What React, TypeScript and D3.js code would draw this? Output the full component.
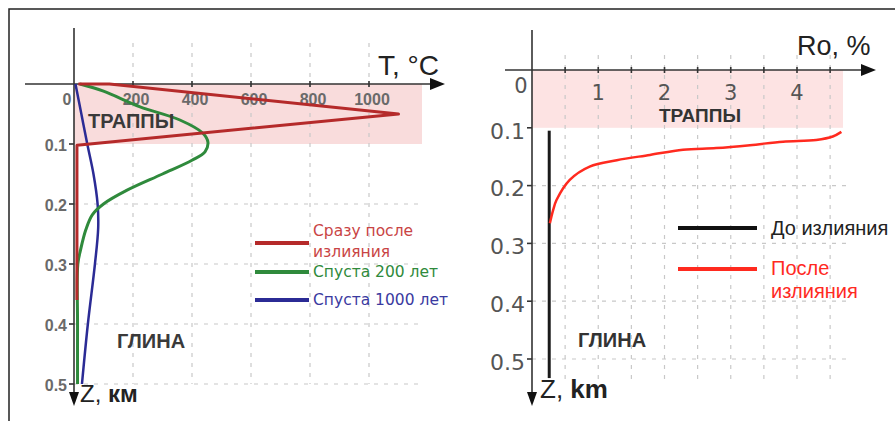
import React, { useEffect, useRef } from 'react';
import * as d3 from 'd3';

// left panel: temperature profiles, T in °C vs depth z in km
const tempTicks = [0, 200, 400, 600, 800, 1000];
const depthTicks = [0.1, 0.2, 0.3, 0.4, 0.5];

const redT = [15, 120, 1100, 10, 10];
const redZ = [0, 0, 0.05, 0.102, 0.36];

const greenT = [20, 100, 224, 359, 437, 454, 444, 400, 300, 180, 100, 62, 40, 22, 13, 12, 12];
const greenZ = [0, 0.012, 0.038, 0.06, 0.082, 0.097, 0.113, 0.127, 0.15, 0.177, 0.2, 0.218, 0.243, 0.277, 0.3, 0.4, 0.5];

const blueT = [5, 25, 45, 66, 80, 82, 71, 47, 27];
const blueZ = [0, 0.05, 0.1, 0.15, 0.2, 0.24, 0.3, 0.4, 0.5];

const leftLegend = [
  { lines: ['Сразу после', 'излияния'], color: '#b52a2a', text: '#c94444' },
  { lines: ['Спуста 200 лет'], color: '#2f8a3c', text: '#2f8a3c' },
  { lines: ['Спуста 1000 лет'], color: '#2b2b95', text: '#3a3aa0' },
];

// right panel: vitrinite reflectance Ro %, vs depth
const roTicks = [1, 2, 3, 4];
const roGrid = [0.5, 1, 1.5, 2, 2.5, 3, 3.5, 4, 4.5];

const beforeRo = [0.26, 0.26];
const beforeZ = [0.105, 0.533];

const afterRo = [0.27, 0.32, 0.37, 0.57, 0.87, 1.28, 1.78, 2.28, 2.78, 3.29, 3.79, 4.29, 4.54, 4.67];
const afterZ = [0.265, 0.242, 0.225, 0.19, 0.167, 0.156, 0.147, 0.138, 0.135, 0.13, 0.124, 0.121, 0.115, 0.107];

const font = "'Liberation Sans', Arial, sans-serif";
const wideFont = "'DejaVu Sans', Verdana, sans-serif";

const App = () => {
  const svgRef = useRef<SVGSVGElement>(null);

  useEffect(() => {
    const width = 895;
    const height = 421;

    d3.select(svgRef.current).selectAll('*').remove();

    const svg = d3.select(svgRef.current)
      .attr('width', width)
      .attr('height', height)
      .style('background', '#fff');

    // outer frame (only top and left edges show)
    svg.append('path')
      .attr('d', `M9,${height} L9,9 L${width},9`)
      .attr('fill', 'none')
      .attr('stroke', '#222')
      .attr('stroke-width', 1.5);

    const drawPanel = (opts) => {
      const { x, y, xGrid, bandRight, gridTop, gridBottom, gridRight, axisLeft, axisTop, arrowX, arrowY } = opts;
      const g = svg.append('g');

      // pink band for the traps layer
      g.append('rect')
        .attr('x', x(0))
        .attr('y', y(0))
        .attr('width', bandRight - x(0))
        .attr('height', y(0.1) - y(0))
        .attr('fill', opts.bandColor);

      // dashed grid
      g.selectAll('.vgrid')
        .data(xGrid)
        .join('line')
        .attr('x1', d => x(d))
        .attr('x2', d => x(d))
        .attr('y1', gridTop)
        .attr('y2', gridBottom)
        .attr('stroke', '#c8c8c8')
        .attr('stroke-width', 1.2)
        .attr('stroke-dasharray', '4,6');

      g.selectAll('.hgrid')
        .data(depthTicks.slice(1))
        .join('line')
        .attr('x1', x(0))
        .attr('x2', gridRight)
        .attr('y1', d => y(d))
        .attr('y2', d => y(d))
        .attr('stroke', '#c8c8c8')
        .attr('stroke-width', 1.2)
        .attr('stroke-dasharray', '4,6');

      // axes with arrows
      g.append('line')
        .attr('x1', axisLeft).attr('x2', arrowX - 14)
        .attr('y1', y(0)).attr('y2', y(0))
        .attr('stroke', '#333').attr('stroke-width', 1.6);
      g.append('path')
        .attr('d', `M${arrowX},${y(0)} L${arrowX - 15},${y(0) - 6} L${arrowX - 15},${y(0) + 6} Z`)
        .attr('fill', '#111');

      g.append('line')
        .attr('x1', x(0)).attr('x2', x(0))
        .attr('y1', axisTop).attr('y2', arrowY - 14)
        .attr('stroke', '#333').attr('stroke-width', 1.6);
      g.append('path')
        .attr('d', `M${x(0)},${arrowY} L${x(0) - 5},${arrowY - 14} L${x(0) + 5},${arrowY - 14} Z`)
        .attr('fill', '#111');

      // tick marks
      g.selectAll('.xtick')
        .data(opts.xTickMarks)
        .join('line')
        .attr('x1', d => x(d)).attr('x2', d => x(d))
        .attr('y1', y(0) - 3).attr('y2', y(0) + 3)
        .attr('stroke', '#333').attr('stroke-width', 1.6);

      g.selectAll('.ytick')
        .data(depthTicks)
        .join('line')
        .attr('x1', x(0) - 5).attr('x2', x(0))
        .attr('y1', d => y(d)).attr('y2', d => y(d))
        .attr('stroke', '#333').attr('stroke-width', 1.6);

      return g;
    };

    const axisName = (g, x, y, first, second, size) => {
      const t = g.append('text')
        .attr('x', x).attr('y', y)
        .style('font-family', font).style('font-size', size)
        .style('fill', '#222');
      t.append('tspan').text(first);
      t.append('tspan').style('font-weight', 'bold').text(second);
    };

    // ---------- left panel ----------
    const xT = d3.scaleLinear().domain([0, 1000]).range([74, 369]);
    const yL = d3.scaleLinear().domain([0, 0.5]).range([84, 384]);

    const left = drawPanel({
      x: xT, y: yL, xGrid: tempTicks.slice(1), bandRight: 422,
      gridTop: 43, gridBottom: 384, gridRight: 422, axisLeft: 25, axisTop: 28,
      arrowX: 445, arrowY: 406, bandColor: '#f9dcdc', xTickMarks: tempTicks.slice(1),
    });

    left.selectAll('.xlab')
      .data(tempTicks)
      .join('text')
      .attr('x', d => (d === 0 ? xT(d) - 7 : xT(d) + 3))
      .attr('y', 105)
      .attr('text-anchor', 'middle')
      .style('font-family', font)
      .style('font-size', '16px')
      .style('font-weight', 'bold')
      .style('fill', '#6a6a6a')
      .text(d => d);

    left.selectAll('.ylab')
      .data(depthTicks)
      .join('text')
      .attr('x', xT(0) - 7)
      .attr('y', d => yL(d) + 1)
      .attr('dy', '0.35em')
      .attr('text-anchor', 'end')
      .style('font-family', font)
      .style('font-size', '16px')
      .style('font-weight', 'bold')
      .style('fill', '#6a6a6a')
      .text(d => d);

    const lineL = d3.line<[number, number]>()
      .x(d => xT(d[0]))
      .y(d => yL(d[1]));

    left.append('path')
      .attr('d', lineL.curve(d3.curveCatmullRom)(blueT.map((t, i) => [t, blueZ[i]] as [number, number])))
      .attr('fill', 'none').attr('stroke', '#2b2b95').attr('stroke-width', 2.5);

    left.append('path')
      .attr('d', lineL.curve(d3.curveCatmullRom)(greenT.map((t, i) => [t, greenZ[i]] as [number, number])))
      .attr('fill', 'none').attr('stroke', '#2f8a3c').attr('stroke-width', 3);

    left.append('path')
      .attr('d', lineL.curve(d3.curveLinear)(redT.map((t, i) => [t, redZ[i]] as [number, number])))
      .attr('fill', 'none').attr('stroke', '#b52a2a').attr('stroke-width', 3).attr('stroke-linejoin', 'round');

    // labels
    left.append('text')
      .attr('x', 88).attr('y', 128)
      .style('font-family', font).style('font-size', '20px').style('font-weight', 'bold')
      .style('fill', '#3a3a3a').text('ТРАППЫ');
    left.append('text')
      .attr('x', 117).attr('y', 348)
      .style('font-family', font).style('font-size', '20px').style('font-weight', 'bold')
      .style('fill', '#3a3a3a').text('ГЛИНА');
    left.append('text')
      .attr('x', 378).attr('y', 75)
      .style('font-family', font).style('font-size', '28px')
      .style('fill', '#222').text('T, °C');
    axisName(left, 80, 402, 'Z, ', 'км', '24px');

    // legend
    const legY = [243, 272, 300];
    leftLegend.forEach((item, i) => {
      left.append('line')
        .attr('x1', 255).attr('x2', 309)
        .attr('y1', legY[i]).attr('y2', legY[i])
        .attr('stroke', item.color).attr('stroke-width', 4);
      item.lines.forEach((ln, j) => {
        left.append('text')
          .attr('x', 313)
          .attr('y', (item.lines.length > 1 ? legY[i] - 7 : legY[i] + 5) + j * 21)
          .style('font-family', wideFont).style('font-size', '15.5px')
          .style('fill', item.text).text(ln);
      });
    });

    // ---------- right panel ----------
    const xR = d3.scaleLinear().domain([0, 4]).range([532, 797]);
    const yR = d3.scaleLinear().domain([0, 0.5]).range([70, 359]);

    const right = drawPanel({
      x: xR, y: yR, xGrid: roGrid, bandRight: 843,
      gridTop: 55, gridBottom: 380, gridRight: 848, axisLeft: 505, axisTop: 30,
      arrowX: 876, arrowY: 406, bandColor: '#fde3e3', xTickMarks: roGrid,
    });

    right.selectAll('.xlab')
      .data([0, ...roTicks])
      .join('text')
      .attr('x', d => (d === 0 ? xR(d) - 11 : xR(d)))
      .attr('y', d => (d === 0 ? 93 : 100))
      .attr('text-anchor', 'middle')
      .style('font-family', wideFont)
      .style('font-size', '21px')
      .style('fill', '#555')
      .text(d => d);

    right.selectAll('.ylab')
      .data(depthTicks)
      .join('text')
      .attr('x', xR(0) - 7)
      .attr('y', d => yR(d) + 3)
      .attr('dy', '0.35em')
      .attr('text-anchor', 'end')
      .style('font-family', wideFont)
      .style('font-size', '22px')
      .style('fill', '#555')
      .text(d => d);

    const lineR = d3.line<[number, number]>()
      .x(d => xR(d[0]))
      .y(d => yR(d[1]));

    right.append('path')
      .attr('d', lineR(beforeRo.map((r, i) => [r, beforeZ[i]] as [number, number])))
      .attr('fill', 'none').attr('stroke', '#1a1a1a').attr('stroke-width', 3);

    right.append('path')
      .attr('d', lineR.curve(d3.curveCatmullRom)(afterRo.map((r, i) => [r, afterZ[i]] as [number, number])))
      .attr('fill', 'none').attr('stroke', '#ff2a1f').attr('stroke-width', 2.5);

    right.append('text')
      .attr('x', 659).attr('y', 122)
      .style('font-family', font).style('font-size', '19px').style('font-weight', 'bold')
      .style('fill', '#333').text('ТРАППЫ');
    right.append('text')
      .attr('x', 578).attr('y', 347)
      .style('font-family', font).style('font-size', '20px').style('font-weight', 'bold')
      .style('fill', '#333').text('ГЛИНА');
    right.append('text')
      .attr('x', 797).attr('y', 55)
      .style('font-family', font).style('font-size', '27px')
      .style('fill', '#222').text('Ro, %');
    axisName(right, 540, 398, 'Z, ', 'km', '26px');

    right.append('line')
      .attr('x1', 678).attr('x2', 757).attr('y1', 228).attr('y2', 228)
      .attr('stroke', '#111').attr('stroke-width', 4);
    right.append('text')
      .attr('x', 771).attr('y', 235)
      .style('font-family', font).style('font-size', '20px')
      .style('fill', '#222').text('До излияния');

    right.append('line')
      .attr('x1', 678).attr('x2', 757).attr('y1', 269).attr('y2', 269)
      .attr('stroke', '#ff2a1f').attr('stroke-width', 4);
    right.append('text')
      .attr('x', 771).attr('y', 275)
      .style('font-family', font).style('font-size', '20px')
      .style('fill', '#ff2a1f').text('После');
    right.append('text')
      .attr('x', 771).attr('y', 298)
      .style('font-family', font).style('font-size', '20px')
      .style('fill', '#ff2a1f').text('излияния');
  }, []);

  return (
    <div style={{ position: 'absolute', left: 0, top: 0 }}>
      <svg ref={svgRef} style={{ display: 'block' }}></svg>
    </div>
  );
};

export default App;
